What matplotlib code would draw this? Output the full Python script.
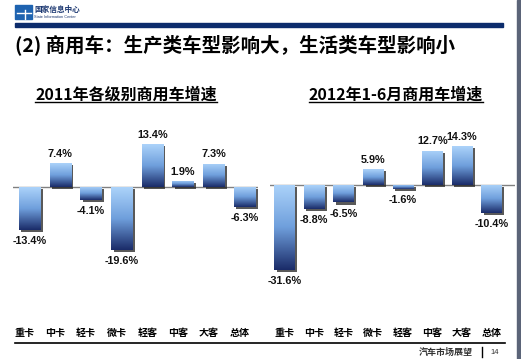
import numpy as np
import matplotlib.pyplot as plt
from matplotlib import patheffects
from matplotlib.colors import LinearSegmentedColormap
from matplotlib.patches import Rectangle
from matplotlib.lines import Line2D

plt.rcParams['font.family'] = ['Noto Sans CJK SC', 'DejaVu Sans']

# === 数据 ===
categories = ['重卡', '中卡', '轻卡', '微卡', '轻客', '中客', '大客', '总体']
growth_2011 = [-13.4, 7.4, -4.1, -19.6, 13.4, 1.9, 7.3, -6.3]
growth_2012h1 = [-31.6, -8.8, -6.5, 5.9, -1.6, 12.7, 14.3, -10.4]

title = '(2) 商用车：生产类车型影响大，生活类车型影响小'
sub_left = '2011年各级别商用车增速'
sub_right = '2012年1-6月商用车增速'

W, H = 521, 359
fig = plt.figure(figsize=(W / 100, H / 100), dpi=100)
fig.patch.set_facecolor('white')

cmap = LinearSegmentedColormap.from_list('bar', ['#acd3fa', '#6f9fdc', '#1a2b68'])
grad = np.linspace(0, 1, 256).reshape(-1, 1)
label_font = ['Liberation Sans', 'DejaVu Sans']


def fx(x):
    return x / W


def fy(y):
    return 1 - y / H


def panel(x0, x1, values, xlim, ylim, tick_shift):
    y0, y1 = 105, 325
    ax = fig.add_axes([fx(x0), fy(y1), (x1 - x0) / W, (y1 - y0) / H])
    xs = np.arange(len(values))
    shadow = [patheffects.SimplePatchShadow(offset=(1.8, -1.5), shadow_rgbFace='#222222', alpha=0.75),
              patheffects.Normal()]
    bars = ax.bar(xs, values, width=0.69, color='#1a2b68', zorder=2, path_effects=shadow)
    for b in bars:
        bx, bw = b.get_x(), b.get_width()
        lo, hi = sorted([b.get_y(), b.get_y() + b.get_height()])
        im = ax.imshow(grad, cmap=cmap, aspect='auto', extent=(bx, bx + bw, lo, hi),
                       origin='upper', zorder=3, interpolation='bilinear')
        im.set_clip_path(b)
    ax.axhline(0, color='#808080', lw=1, zorder=1)
    for x, v in zip(xs, values):
        if v > 0:
            ax.annotate(f'{v:.1f}%', (x, v), xytext=(0, 3), textcoords='offset points',
                        ha='center', va='bottom', fontsize=7.8, fontweight='bold',
                        family=label_font, color='#111111', zorder=5)
        else:
            ax.annotate(f'{v:.1f}%', (x, v), xytext=(0, -4.5), textcoords='offset points',
                        ha='center', va='top', fontsize=7.8, fontweight='bold',
                        family=label_font, color='#111111', zorder=5)
    ax.set_xlim(*xlim)
    ax.set_ylim(*ylim)
    ax.set_xticks(xs + tick_shift)
    ax.set_xticklabels(categories, fontsize=7.2, fontweight='heavy')
    ax.tick_params(axis='x', length=0, pad=2)
    ax.set_yticks([])
    for s in ax.spines.values():
        s.set_visible(False)
    ax.patch.set_alpha(0)
    return ax


panel(13, 258, growth_2011, (-0.54, 7.44), (-43.1, 25.6), -0.16)
panel(270, 515, growth_2012h1, (-0.49, 7.79), (-51.9, 29.6), 0.0)

# 页眉
fig.patches.append(Rectangle((fx(15), fy(19)), 17 / W, 14 / H, transform=fig.transFigure,
                             color='#1e63b0'))
fig.lines.append(Line2D([fx(17), fx(31)], [fy(13), fy(13)], transform=fig.transFigure,
                        color='white', lw=1))
fig.lines.append(Line2D([fx(25), fx(25)], [fy(10), fy(19)], transform=fig.transFigure,
                        color='white', lw=1))
fig.text(fx(34), fy(9.5), '国家信息中心', fontsize=5.5, fontweight='bold', color='#1a3670', va='center')
fig.text(fx(34), fy(16.5), 'State Information Center', fontsize=2.8, color='#1a3670', va='center',
         family=label_font)
fig.patches.append(Rectangle((fx(15), fy(27)), 488 / W, 4 / H, transform=fig.transFigure,
                             color='#0c2c6c'))
fig.patches.append(Rectangle((fx(517), 0), 4 / W, 1, transform=fig.transFigure, color='#5b6478'))

fig.text(fx(15), fy(45), title, fontsize=14, fontweight='bold', va='center')

subs = [fig.text(fx(126), fy(95), sub_left, fontsize=11.5, fontweight='heavy', ha='center', va='center'),
        fig.text(fx(396), fy(95), sub_right, fontsize=11.5, fontweight='heavy', ha='center', va='center')]
fig.canvas.draw()
r = fig.canvas.get_renderer()
for t in subs:
    bb = t.get_window_extent(r)
    fig.lines.append(Line2D([bb.x0 / W, bb.x1 / W], [fy(101.5), fy(101.5)], transform=fig.transFigure,
                            color='black', lw=1))

# 页脚
fig.lines.append(Line2D([fx(15), fx(505)], [fy(343), fy(343)], transform=fig.transFigure,
                        color='black', lw=1.2))
fig.text(fx(473), fy(352), '汽车市场展望', fontsize=6.5, fontweight='bold', color='#333333',
         ha='right', va='center')
fig.lines.append(Line2D([fx(482), fx(482)], [fy(347), fy(357)], transform=fig.transFigure,
                        color='black', lw=1))
fig.text(fx(495), fy(352), '14', fontsize=5.5, color='#333333', ha='center', va='center',
         family=label_font)

fig.savefig('out.png', dpi=100)
